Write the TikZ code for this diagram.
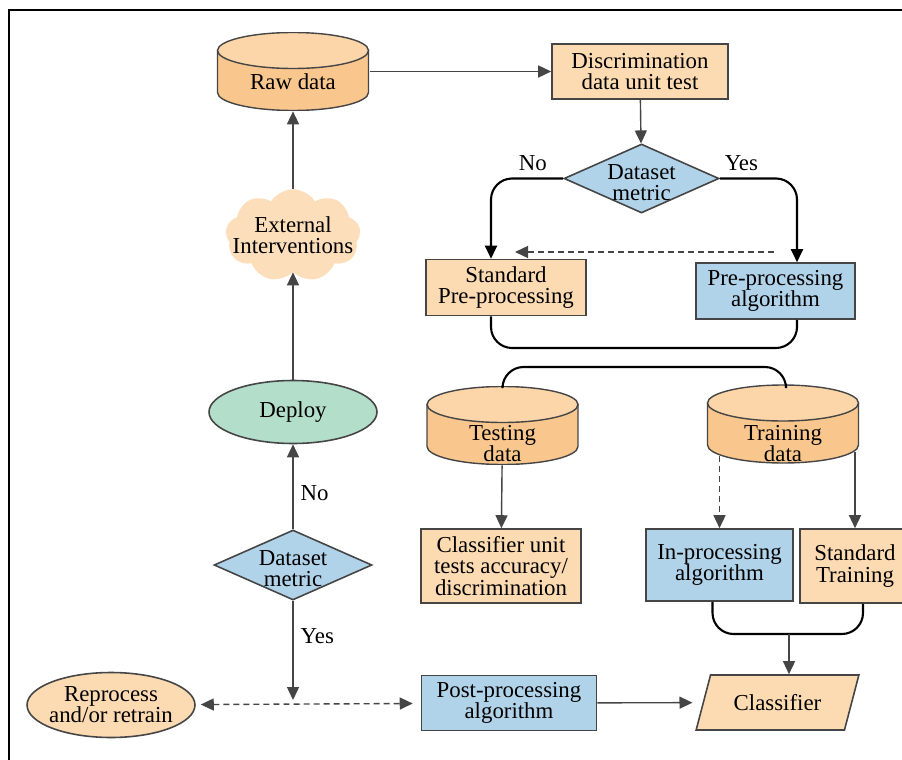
\documentclass[tikz,border=0pt]{standalone}
\usepackage{fontspec}
\setmainfont{Liberation Serif}
\usepackage{tikz}
\usetikzlibrary{calc}
\usetikzlibrary{arrows.meta}
\usetikzlibrary{shapes.geometric}
\usetikzlibrary{shapes.symbols}

\definecolor{boxorange}{HTML}{FCDAB2}
\definecolor{cylbody}{HTML}{F9C78E}
\definecolor{cyltop}{HTML}{FCD6A9}
\definecolor{cloudfill}{HTML}{FDDEBA}
\definecolor{boxblue}{HTML}{B1D3EA}
\definecolor{boxgreen}{HTML}{B3DEC9}
\definecolor{edgegray}{HTML}{454545}

\begin{document}
\begin{tikzpicture}[x=0.02cm,y=-0.02cm,>={Triangle[length=2.6mm,width=2.4mm]},
  font=\fontsize{13}{12}\selectfont,
  box/.style={rectangle,draw=edgegray,line width=0.9pt,fill=#1,align=center,inner sep=0pt},
  box/.default=boxorange,
  db/.style={rectangle,inner sep=0pt,minimum width=3.06cm,minimum height=1.58cm,
    path picture={
      \begin{scope}[shift={(path picture bounding box.center)}]
        \filldraw[draw=edgegray,line width=0.8pt,fill=cylbody]
          (-1.51cm,0.42cm) -- (-1.51cm,-0.42cm)
          arc[start angle=180,end angle=360,x radius=1.51cm,y radius=0.36cm]
          -- (1.51cm,0.42cm) -- cycle;
        \filldraw[draw=edgegray,line width=0.8pt,fill=cyltop]
          (0cm,0.42cm) ellipse[x radius=1.51cm,y radius=0.36cm];
      \end{scope}}},
  decision/.style={diamond,draw=edgegray,line width=0.9pt,fill=boxblue,inner sep=0pt},
  oval/.style={ellipse,draw=edgegray,line width=0.9pt,fill=#1,inner sep=0pt},
  flow/.style={draw=edgegray,line width=0.8pt,->},
  bracket/.style={draw=black,line width=1.2pt,rounded corners=12pt},
  tag/.style={inner sep=4pt}]

\useasboundingbox (0,0) rectangle (902,760);
\clip (0,0) rectangle (902,760);
\draw[line width=1.2pt] (9,760) -- (9,10) -- (902,10);

% left column
\node[db,label={[yshift=-0.2cm]center:Raw data}] (raw) at (293,71.5) {};
\node[cloud,cloud puffs=9,cloud puff arc=115,aspect=1.4,fill=cloudfill,
  minimum width=2.7cm,minimum height=1.85cm,
  label={[align=center]center:External\\Interventions}] (ext) at (293,235.5) {};
\node[oval=boxgreen,minimum width=3.36cm,minimum height=1.26cm] (deploy) at (293,412) {Deploy};
\node[decision,minimum width=3.16cm,minimum height=1.4cm,
  label={[align=center,yshift=-0.08cm]center:Dataset\\metric}] (dm2) at (293,565) {};
\node[oval=boxorange,minimum width=3.36cm,minimum height=1.3cm,
  label={[align=center]center:Reprocess\\and/or retrain}] (redo) at (111,705) {};
\coordinate (hub) at (293,700);

% right part
\node[box,minimum width=3.52cm,minimum height=1.1cm] (disc) at (640,71.5) {Discrimination\\data unit test};
\node[decision,minimum width=3.1cm,minimum height=1.38cm,
  label={[align=center,yshift=-0.09cm]center:Dataset\\metric}] (dm1) at (641.5,178.5) {};
\node[box,minimum width=3.2cm,minimum height=1.12cm] (std) at (506,287.5) {Standard\\Pre-processing};
\node[box=boxblue,minimum width=3.18cm,minimum height=1.12cm] (pre) at (775.5,291) {Pre-processing\\algorithm};
\coordinate (dashR) at (774,252);
\coordinate (dashL) at (515,252);
\coordinate (split1) at (640,348);
\coordinate (split2) at (640,367);

\node[db,label={[align=center,yshift=-0.36cm]center:Testing\\data}] (test) at (502.5,425.5) {};
\node[db,label={[align=center,yshift=-0.4cm]center:Training\\data}] (train) at (783,424) {};
\node[box,minimum width=3.2cm,minimum height=1.48cm] (unit) at (501,566) {Classifier unit\\tests accuracy/\\discrimination};
\node[box=boxblue,minimum width=2.94cm,minimum height=1.44cm] (inproc) at (719.5,565) {In-processing\\algorithm};
\node[box,minimum width=2.2cm,minimum height=1.48cm] (stdtrain) at (855,566) {Standard\\Training};
\coordinate (split3) at (789,634);
\node[box=boxblue,minimum width=3.5cm,minimum height=1.1cm] (post) at (509,703) {Post-processing\\algorithm};
\node[trapezium,trapezium left angle=60,trapezium right angle=120,trapezium stretches=true,
  draw=edgegray,line width=0.9pt,fill=boxorange,inner sep=0pt,
  minimum width=3.26cm,minimum height=1.1cm] (clf) at (777.5,702.5) {Classifier};

% connectors
\draw[flow] (raw) -- (disc);
\draw[flow] (disc) -- (dm1);
\draw[bracket,->] (dm1.west) -| ([xshift=-0.3cm]std.north) node[tag,pos=0.21,above]{No};
\draw[bracket,->] (dm1.east) -| ([xshift=0.43cm]pre.north) node[tag,pos=0.14,above]{Yes};
\draw[flow,dashed,dash pattern=on 3.4pt off 2.3pt] (dashR) -- (dashL);
\draw[bracket] ([xshift=-0.3cm]std.south) |- (split1) -| ([xshift=0.43cm]pre.south);
\draw[bracket] (test.north) |- (split2) -| ([xshift=0.06cm]train.north);
\draw[flow] (test) -- (unit);
\draw[flow,dashed,dash pattern=on 3.4pt off 2.3pt] ($(inproc.north |- train.south)+(0,-8)$) -- (inproc.north);
\draw[flow] ($(stdtrain.north |- train.south)+(0,-12)$) -- (stdtrain.north);
\draw[bracket] ([xshift=-0.14cm]inproc.south) |- (split3) -| ([xshift=0.16cm]stdtrain.south);
\draw[flow] (split3) -- (split3 |- clf.north);
\draw[flow,shorten >=0.2cm] (post) -- (clf);
\draw[flow,<->,dashed,dash pattern=on 3.4pt off 2.3pt,shorten <=0.1cm,shorten >=0.16cm] (redo) -- (post);
\draw[flow] (dm2) -- (hub) node[tag,pos=0.36,right]{Yes};
\draw[flow] (dm2) -- (deploy) node[tag,pos=0.42,right]{No};
\draw[flow] (deploy) -- (ext);
\draw[flow] (ext) -- (raw);

\end{tikzpicture}
\end{document}
